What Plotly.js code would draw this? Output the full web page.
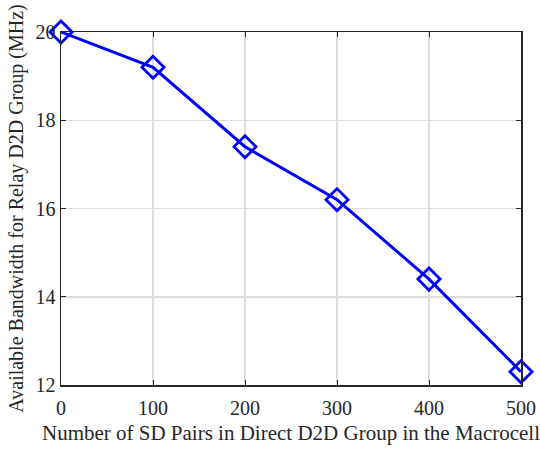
<!DOCTYPE html>
<html><head><meta charset="utf-8">
<script src="https://cdn.plot.ly/plotly-3.0.1.min.js"></script>
<style>html,body{margin:0;padding:0;background:#fff}</style>
</head><body>
<div id="chart" style="width:540px;height:451px"></div>
<script>
const xValues = [0, 100, 200, 300, 400, 500];
const yValues = [20, 19.2, 17.4, 16.2, 14.4, 12.3];
const xTicks = [0, 100, 200, 300, 400, 500];
const yTicks = [12, 14, 16, 18, 20];

const font = {family: 'Liberation Serif, Times New Roman, serif', color: '#262626'};
Plotly.newPlot('chart', [{
  x: xValues, y: yValues, type: 'scatter', mode: 'lines+markers',
  line: {color: '#0000ff', width: 3},
  marker: {symbol: 'diamond-open', size: 17, color: '#0000ff', line: {width: 2.8, color: '#0000ff'}},
  cliponaxis: false
}], {
  width: 540, height: 451,
  margin: {l: 61, r: 19, t: 32, b: 66},
  paper_bgcolor: '#fff', plot_bgcolor: '#fff',
  showlegend: false,
  font: Object.assign({size: 20}, font),
  xaxis: {
    range: [0, 500], tickvals: xTicks, ticks: 'inside', ticklen: 5, tickcolor: '#262626',
    showline: true, linecolor: '#262626', linewidth: 1.5, mirror: 'ticks',
    showgrid: true, gridcolor: '#dcdcdc', gridwidth: 1.5, zeroline: false,
    tickfont: Object.assign({size: 20}, font), ticklabelstandoff: 4,
    title: {text: 'Number of SD Pairs in Direct D2D Group in the Macrocell', font: Object.assign({size: 21}, font), standoff: 8}
  },
  yaxis: {
    range: [12, 20], tickvals: yTicks, ticks: 'inside', ticklen: 5, tickcolor: '#262626',
    showline: true, linecolor: '#262626', linewidth: 1.5, mirror: 'ticks',
    showgrid: true, gridcolor: '#dcdcdc', gridwidth: 1.5, zeroline: false,
    tickfont: Object.assign({size: 20}, font),
    title: {text: 'Available Bandwidth for Relay D2D Group (MHz)', font: Object.assign({size: 20}, font), standoff: 6}
  }
}, {displayModeBar: false, staticPlot: true});
</script>
</body></html>
